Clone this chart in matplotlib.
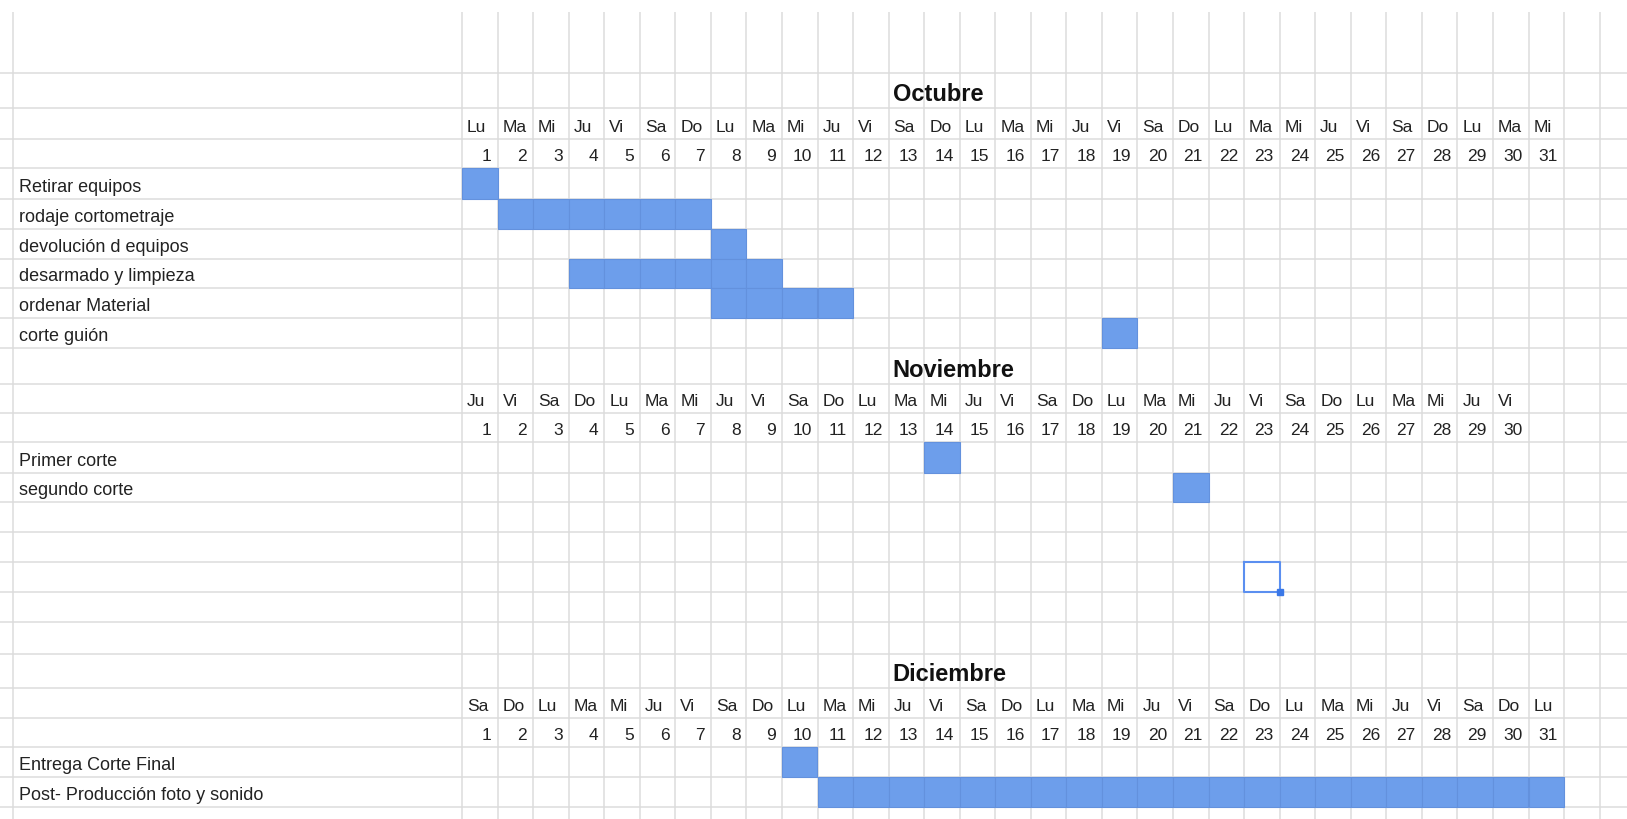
import numpy as np
import matplotlib.pyplot as plt

plt.rcParams['font.family'] = ['Liberation Sans', 'DejaVu Sans']

# --- datos ---
meses = ["Octubre", "Noviembre", "Diciembre"]

oct_dias = ["Lu", "Ma", "Mi", "Ju", "Vi", "Sa", "Do", "Lu", "Ma", "Mi", "Ju", "Vi", "Sa", "Do", "Lu", "Ma",
            "Mi", "Ju", "Vi", "Sa", "Do", "Lu", "Ma", "Mi", "Ju", "Vi", "Sa", "Do", "Lu", "Ma", "Mi"]
nov_dias = ["Ju", "Vi", "Sa", "Do", "Lu", "Ma", "Mi", "Ju", "Vi", "Sa", "Do", "Lu", "Ma", "Mi", "Ju", "Vi",
            "Sa", "Do", "Lu", "Ma", "Mi", "Ju", "Vi", "Sa", "Do", "Lu", "Ma", "Mi", "Ju", "Vi"]
dic_dias = ["Sa", "Do", "Lu", "Ma", "Mi", "Ju", "Vi", "Sa", "Do", "Lu", "Ma", "Mi", "Ju", "Vi", "Sa", "Do",
            "Lu", "Ma", "Mi", "Ju", "Vi", "Sa", "Do", "Lu", "Ma", "Mi", "Ju", "Vi", "Sa", "Do", "Lu"]

oct_tareas = ["Retirar equipos", "rodaje cortometraje", "devolución d equipos",
              "desarmado y limpieza", "ordenar Material", "corte guión"]
oct_inicio = [1, 2, 8, 4, 8, 19]
oct_fin = [1, 7, 8, 9, 11, 19]

nov_tareas = ["Primer corte", "segundo corte"]
nov_inicio = [14, 21]
nov_fin = [14, 21]

dic_tareas = ["Entrega Corte Final", "Post- Producción foto y sonido"]
dic_inicio = [10, 11]
dic_fin = [10, 31]

# celda seleccionada (día, fila)
sel_dia = 23
sel_fila = 17

# --- layout (pixeles) ---
W, H = 1627, 820
X0 = 462          # borde izq. del día 1
COLW = 35.55      # ancho de columna de día
XLAB = 13         # borde izq. de la columna de tareas
YTOP = 13         # inicio de las lineas verticales
alto_filas = [74, 35, 31, 29, 31, 30, 30, 29, 30, 30, 36, 29, 29, 31, 29,
              30, 30, 30, 30, 32, 34, 30, 29, 30, 30, 12]
bordes = np.concatenate([[0], np.cumsum(alto_filas)])
fila_mes = [1, 10, 20]

BLUE = '#6d9eeb'
GRID = '#dcdcdc'
TXT = '#222222'

fig = plt.figure(figsize=(W / 100, H / 100), dpi=100)
ax = fig.add_axes([0, 0, 1, 1])
xmin, xmax = -X0 / COLW, (W - X0) / COLW
ax.set_xlim(xmin, xmax)
ax.set_ylim(H, 0)
ax.axis('off')

# cuadricula
ax.hlines(bordes[1:-1], xmin, xmax, colors=GRID, lw=1.1, zorder=1)
ncol = int(xmax) + 1
ax.vlines(np.arange(0, ncol), YTOP, H, colors=GRID, lw=1.1, zorder=1)
ax.vlines((XLAB - X0) / COLW, YTOP, H, colors=GRID, lw=1.1, zorder=1)

pad_l = 5 / COLW
pad_r = 6 / COLW
x_tarea = (XLAB + 6 - X0) / COLW


def base(fila):
    return bordes[fila + 1] - 8


secciones = [(oct_dias, oct_tareas, oct_inicio, oct_fin),
             (nov_dias, nov_tareas, nov_inicio, nov_fin),
             (dic_dias, dic_tareas, dic_inicio, dic_fin)]

for mes, fm, (dias, tareas, ini, fin) in zip(meses, fila_mes, secciones):
    ax.text(12 + 4 / COLW, base(fm), mes, fontsize=17, fontweight='bold',
            color='#111111', ha='left', va='baseline')
    for d, nombre in enumerate(dias, start=1):
        ax.text(d - 1 + pad_l, base(fm + 1), nombre, fontsize=12.5, color=TXT,
                ha='left', va='baseline')
        ax.text(d - pad_r, base(fm + 2), str(d), fontsize=12.5, color=TXT,
                ha='right', va='baseline')
    for k, (t, s, e) in enumerate(zip(tareas, ini, fin)):
        f = fm + 3 + k
        ax.text(x_tarea, base(f), t, fontsize=13, color=TXT, ha='left', va='baseline')
        dd = np.arange(s, e + 1)
        ax.bar(dd - 0.5, bordes[f + 1] - bordes[f], width=1, bottom=bordes[f],
               color=BLUE, edgecolor='#6391dd', linewidth=0.8, zorder=2)

# celda seleccionada
y0, y1 = bordes[sel_fila], bordes[sel_fila + 1]
ax.plot([sel_dia - 1, sel_dia, sel_dia, sel_dia - 1, sel_dia - 1], [y0, y0, y1, y1, y0],
        color='#5b8ff0', lw=1.5, zorder=3)
ax.plot([sel_dia], [y1], marker='s', ms=5, color='#3b78e7', zorder=4)

fig.savefig('out.png', dpi=100)
